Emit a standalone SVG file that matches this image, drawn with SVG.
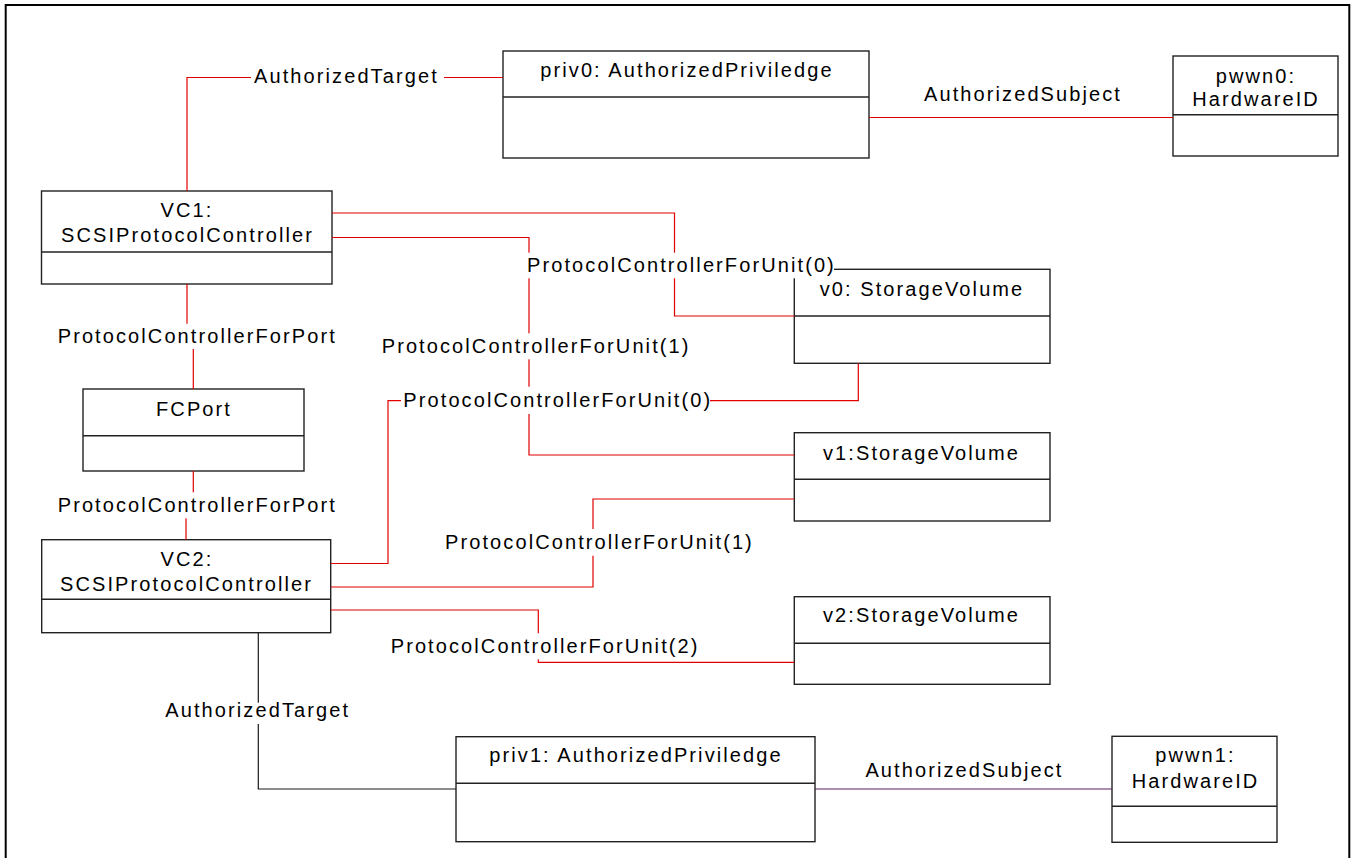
<svg xmlns="http://www.w3.org/2000/svg" width="1351" height="858" viewBox="0 0 1351 858">
<style>
.box{fill:#fff;stroke:#222;stroke-width:1.4}
.div{stroke:#222;stroke-width:1.4}
.t{font-family:"Liberation Sans",Arial,sans-serif;font-size:20px;letter-spacing:2.1px;fill:#000}
.c{text-anchor:middle}
.ln{fill:none;stroke:#e00000;stroke-width:1.2}
.lk{fill:none;stroke:#1a1a1a;stroke-width:1.2}
.lp{fill:none;stroke:#5a205a;stroke-width:1.2}
.bg{fill:#fff}
</style>
<rect width="1351" height="858" fill="#fff"/>
<rect x="5.7" y="5" width="1343.6" height="880" fill="none" stroke="#000" stroke-width="2"/>

<g id="VC1">
<rect class="box" x="41.5" y="191" width="290.5" height="93"/>
<line class="div" x1="41.5" y1="252" x2="332" y2="252"/>
<text class="t c" x="187" y="217">VC1:</text>
<text class="t c" x="187.5" y="241.7">SCSIProtocolController</text>
</g>
<g id="FCPort">
<rect class="box" x="83" y="389" width="221" height="82"/>
<line class="div" x1="83" y1="435.7" x2="304" y2="435.7"/>
<text class="t c" x="194" y="415.7">FCPort</text>
</g>
<g id="VC2">
<rect class="box" x="41.7" y="539.7" width="289" height="93"/>
<line class="div" x1="41.7" y1="599.3" x2="330.7" y2="599.3"/>
<text class="t c" x="187" y="565.7">VC2:</text>
<text class="t c" x="186.5" y="590.7">SCSIProtocolController</text>
</g>
<g id="priv0">
<rect class="box" x="503" y="51" width="366" height="107"/>
<line class="div" x1="503" y1="97" x2="869" y2="97"/>
<text class="t c" x="687" y="77">priv0: AuthorizedPriviledge</text>
</g>
<g id="pwwn0">
<rect class="box" x="1173" y="56" width="165" height="100"/>
<line class="div" x1="1173" y1="114.7" x2="1338" y2="114.7"/>
<text class="t c" x="1256" y="82.7">pwwn0:</text>
<text class="t c" x="1256" y="105.7">HardwareID</text>
</g>
<g id="v0">
<rect class="box" x="794.3" y="269.3" width="255.7" height="94"/>
<line class="div" x1="794.3" y1="316" x2="1050" y2="316"/>
<text class="t c" x="922" y="295.7">v0: StorageVolume</text>
</g>
<g id="v1">
<rect class="box" x="794.3" y="432.7" width="255.7" height="88.3"/>
<line class="div" x1="794.3" y1="479.3" x2="1050" y2="479.3"/>
<text class="t c" x="921.5" y="460">v1:StorageVolume</text>
</g>
<g id="v2">
<rect class="box" x="794.3" y="596.7" width="255.7" height="87.6"/>
<line class="div" x1="794.3" y1="643.3" x2="1050" y2="643.3"/>
<text class="t c" x="921.5" y="622.3">v2:StorageVolume</text>
</g>
<g id="priv1">
<rect class="box" x="456" y="736.7" width="359" height="105"/>
<line class="div" x1="456" y1="783.3" x2="815" y2="783.3"/>
<text class="t c" x="636" y="761.7">priv1: AuthorizedPriviledge</text>
</g>
<g id="pwwn1">
<rect class="box" x="1112" y="736.3" width="165" height="106"/>
<line class="div" x1="1112" y1="806.3" x2="1277" y2="806.3"/>
<text class="t c" x="1195.5" y="761.7">pwwn1:</text>
<text class="t c" x="1195.5" y="787.7">HardwareID</text>
</g>

<g id="connectors">
<path class="ln" d="M187 191 V77.5 H503"/>
<path class="ln" d="M869 117.5 H1173"/>
<path class="ln" d="M332 213 H674.5 V316 H794.3"/>
<path class="ln" d="M332 237.5 H529 V455 H794.3"/>
<path class="ln" d="M187 284 V336 H193.3 V389"/>
<path class="ln" d="M193.3 471 V505 H186 V539.7"/>
<path class="ln" d="M330.7 563.5 H388 V400.7 H858.3 V363.3"/>
<path class="ln" d="M330.7 587 H593 V499 H794.3"/>
<path class="ln" d="M330.7 610 H538.3 V662.3 H794.3"/>
<path class="lk" d="M258.3 632.7 V789 H456"/>
<path class="lp" d="M815 789 H1112"/>

<rect class="bg" x="251" y="64" width="193" height="26"/>
<text class="t" x="254" y="83.3">AuthorizedTarget</text>
<text class="t" x="924" y="100.7">AuthorizedSubject</text>
<rect class="bg" x="524" y="252.7" width="310" height="25.6"/>
<text class="t" x="527" y="271.7">ProtocolControllerForUnit(0)</text>
<rect class="bg" x="379" y="333.3" width="309" height="26"/>
<text class="t" x="381.7" y="352.7">ProtocolControllerForUnit(1)</text>
<rect class="bg" x="401" y="386.7" width="309" height="27.3"/>
<text class="t" x="403.3" y="407.3">ProtocolControllerForUnit(0)</text>
<rect class="bg" x="55" y="323.7" width="282" height="25.3"/>
<text class="t" x="57.7" y="343.3">ProtocolControllerForPort</text>
<rect class="bg" x="55" y="492.3" width="282" height="26"/>
<text class="t" x="57.7" y="511.7">ProtocolControllerForPort</text>
<rect class="bg" x="442" y="529" width="311" height="26.7"/>
<text class="t" x="445" y="549">ProtocolControllerForUnit(1)</text>
<rect class="bg" x="388" y="633.3" width="310" height="26"/>
<text class="t" x="390.7" y="653.3">ProtocolControllerForUnit(2)</text>
<rect class="bg" x="162" y="702.7" width="194" height="21.3"/>
<text class="t" x="165.3" y="717.3">AuthorizedTarget</text>
<text class="t" x="865.4" y="776.7">AuthorizedSubject</text>
</g>
</svg>
